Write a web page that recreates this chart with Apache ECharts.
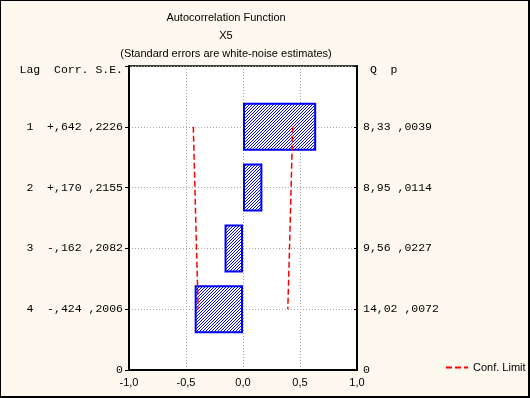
<!DOCTYPE html>
<html><head><meta charset="utf-8">
<script src="https://cdn.jsdelivr.net/npm/echarts@6/dist/echarts.min.js"></script>
<style>
html,body{margin:0;padding:0;background:#fdf9ef;}
#c{width:530px;height:398px;position:absolute;left:0;top:0;}
#f{position:absolute;left:0;top:0;width:530px;height:398px;box-sizing:border-box;border-left:1px solid #000;border-top:1px solid #000;border-right:2px solid #000;border-bottom:2px solid #000;pointer-events:none;}
</style></head><body><div id="c"></div><div id="f"></div>
<script>
const lags = [1, 2, 3, 4];
const corr = [0.642, 0.170, -0.162, -0.424];
const stdErr = [0.2226, 0.2155, 0.2082, 0.2006];
const qStat = [8.33, 8.95, 9.56, 14.02];
const pValue = [0.0039, 0.0114, 0.0227, 0.0072];
const confUpper = [0.436, 0.422, 0.408, 0.393];
const confLower = [-0.436, -0.422, -0.408, -0.393];
const yCats = ['0', '4', '3', '2', '1', 'top'];
const titleLines = ['Autocorrelation Function', 'X5', '(Standard errors are white-noise estimates)'];
const leftHeader = 'Lag  Corr. S.E.';
const rightHeader = ' Q  p';

function fmtCorr(v) { return (v >= 0 ? '+' : '-') + ',' + String(Math.round(Math.abs(v) * 1000)).padStart(3, '0'); }
function fmtFrac4(v) { return ',' + String(Math.round(v * 10000)).padStart(4, '0'); }
function fmtQ(v) { return v.toFixed(2).replace('.', ','); }

// hatch pattern
const pc = document.createElement('canvas');
pc.width = 3; pc.height = 3;
const pctx = pc.getContext('2d');
pctx.fillStyle = '#ffffff'; pctx.fillRect(0, 0, 3, 3);
pctx.fillStyle = '#0000ff';
pctx.fillRect(2, 0, 1, 1); pctx.fillRect(1, 1, 1, 1); pctx.fillRect(0, 2, 1, 1);

function leftLabel(value, idx) {
  if (value === '0') return '0';
  if (value === 'top') return '{h|' + leftHeader + '}';
  const i = lags.indexOf(Number(value));
  return lags[i] + '  ' + fmtCorr(corr[i]) + ' ' + fmtFrac4(stdErr[i]);
}
function rightLabel(value, idx) {
  if (value === '0') return '0';
  if (value === 'top') return '{h|' + rightHeader + '}';
  const i = lags.indexOf(Number(value));
  return fmtQ(qStat[i]) + ' ' + fmtFrac4(pValue[i]);
}

const mono = { fontFamily: 'Liberation Mono', fontSize: 11.5, color: '#000' };
const chart = echarts.init(document.getElementById('c'), null, { renderer: 'canvas' });
chart.setOption({
  backgroundColor: '#fdf9ef',
  animation: false,
  title: {
    text: titleLines.join('\n'),
    left: 221, top: 4, textAlign: 'center',
    textStyle: { fontFamily: 'Liberation Sans', fontSize: 11, fontWeight: 'normal', color: '#000', lineHeight: 17.8 }
  },
  legend: {
    data: ['Conf. Limit'],
    left: 445, top: 362, padding: 0,
    itemWidth: 22, itemHeight: 10,
    itemStyle: { opacity: 0 },
    textStyle: { fontFamily: 'Liberation Sans', fontSize: 11, color: '#000' }
  },
  grid: {
    left: 129, right: 173, top: 66, bottom: 28,
    show: true, backgroundColor: '#ffffff', borderColor: '#000', borderWidth: 1.5
  },
  xAxis: {
    type: 'value', min: -1, max: 1, interval: 0.5,
    axisLine: { show: true, onZero: false, lineStyle: { color: '#000', width: 2 } },
    axisTick: { show: false },
    axisLabel: { margin: 7, fontFamily: 'Liberation Sans', fontSize: 11, color: '#000',
      formatter: v => v.toFixed(1).replace('.', ',') },
    splitLine: { show: true, lineStyle: { color: '#a8a8a8', type: [1, 2], width: 1 } }
  },
  yAxis: [
    {
      type: 'category', data: yCats, boundaryGap: false, position: 'left',
      axisLine: { show: true, onZero: false, lineStyle: { color: '#000', width: 2 } },
      axisTick: { show: true, inside: false, length: 4, interval: 0, lineStyle: { color: '#000' } },
      axisLabel: Object.assign({ margin: 6, interval: 0, formatter: leftLabel,
        rich: { h: Object.assign({ padding: [7, 0, 0, 0] }, mono) } }, mono),
      splitLine: { show: true, interval: 0, lineStyle: { color: '#a8a8a8', type: [1, 2], width: 1 } }
    },
    {
      type: 'category', data: yCats, boundaryGap: false, position: 'right',
      axisLine: { show: true, onZero: false, lineStyle: { color: '#000', width: 2 } },
      axisTick: { show: true, inside: true, length: 3, interval: 0, lineStyle: { color: '#000' } },
      axisLabel: Object.assign({ margin: 6, interval: 0, formatter: rightLabel,
        rich: { h: Object.assign({ padding: [7, 0, 0, 0] }, mono) } }, mono),
      splitLine: { show: false }
    }
  ],
  series: [
    {
      type: 'bar', yAxisIndex: 0, barWidth: 48,
      data: lags.map((l, i) => [corr[i], String(l)]),
      itemStyle: { color: { image: pc, repeat: 'repeat' }, borderColor: '#0000ff', borderWidth: 2 }
    },
    {
      type: 'line', name: 'Conf. Limit', yAxisIndex: 0, symbol: 'none',
      data: lags.map((l, i) => [confUpper[i], String(l)]),
      lineStyle: { color: '#ff0000', width: 1.5, type: [6, 3] }, itemStyle: { color: '#ff0000' }
    },
    {
      type: 'line', name: 'Conf. Limit', yAxisIndex: 0, symbol: 'none',
      data: lags.map((l, i) => [confLower[i], String(l)]),
      lineStyle: { color: '#ff0000', width: 1.5, type: [6, 3] }, itemStyle: { color: '#ff0000' }
    }
  ]
});
</script></body></html>
